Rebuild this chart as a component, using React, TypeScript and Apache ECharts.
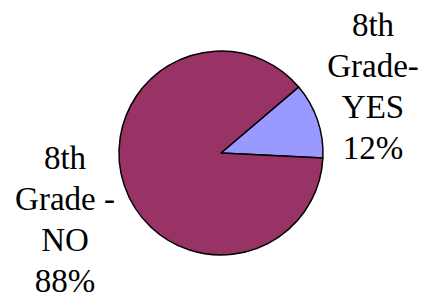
import React, { useEffect, useRef } from "react";
import * as echarts from "echarts";

const categories = ["8th\nGrade-\nYES", "8th\nGrade -\nNO"];
const values = [12, 88];
const colors = ["#9999FF", "#993366"];
const labelAnchors = [
  { x: 373, y: 86 },
  { x: 65, y: 219 },
];

const serif = "Liberation Serif, Times New Roman, serif";

export default function App() {
  const ref = useRef<HTMLDivElement>(null);
  useEffect(() => {
    document.body.style.margin = "0";
    const chart = echarts.init(ref.current!, null, { renderer: "svg" });
    chart.setOption({
      animation: false,
      backgroundColor: "#ffffff",
      textStyle: { fontFamily: serif },
      series: [
        {
          type: "pie",
          center: [221, 153],
          radius: 102,
          startAngle: 40.4,
          clockwise: true,
          data: categories.map((name, i) => ({
            name,
            value: values[i],
            itemStyle: { color: colors[i] },
          })),
          itemStyle: { borderColor: "#000000", borderWidth: 1.5 },
          label: {
            show: true,
            position: "inside",
            formatter: "{b}\n{d}%",
            fontFamily: serif,
            fontSize: 33,
            lineHeight: 41,
            color: "#000000",
            align: "center",
          },
          labelLine: { show: false },
          labelLayout: (params: any) => {
            const a = labelAnchors[params.dataIndex];
            return { x: a.x, y: a.y, align: "center", verticalAlign: "middle" };
          },
          emphasis: { disabled: true },
        },
      ],
    });
    return () => chart.dispose();
  }, []);
  return <div ref={ref} style={{ width: 421, height: 295 }} />;
}
